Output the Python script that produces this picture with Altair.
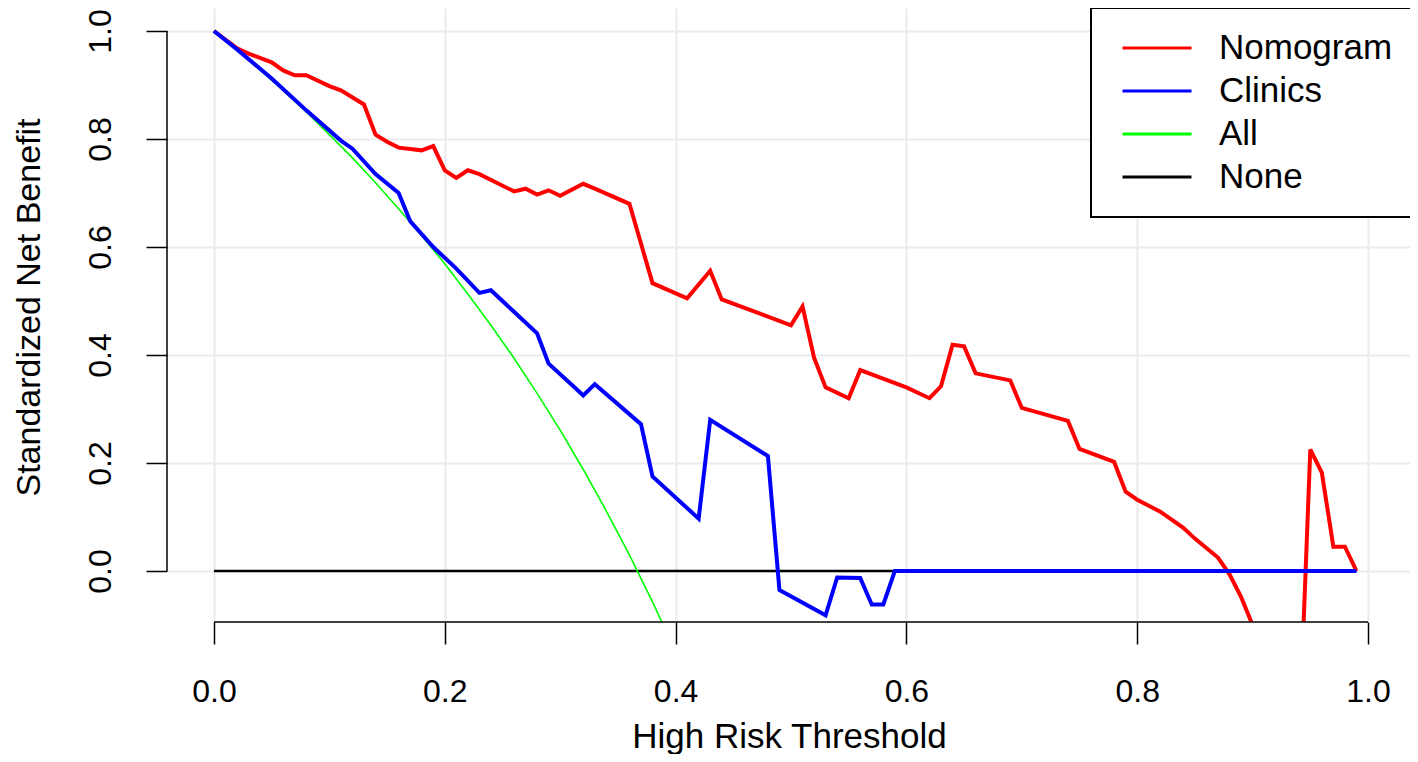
import altair as alt
import pandas as pd

# ---- data ----
series_names = ["Nomogram", "Clinics", "All", "None"]
series_colors = ["#FF0000", "#0000FF", "#00FF00", "#000000"]

nomo_t = [0.00, 0.02, 0.03, 0.05, 0.06, 0.07, 0.08, 0.10, 0.11, 0.13, 0.14, 0.15, 0.16,
          0.18, 0.19, 0.20, 0.21, 0.22, 0.23, 0.26, 0.27, 0.28, 0.29, 0.30, 0.32, 0.33,
          0.36, 0.38, 0.41, 0.43, 0.44, 0.50, 0.51, 0.52, 0.53, 0.55, 0.56, 0.60, 0.62,
          0.63, 0.64, 0.65, 0.66, 0.69, 0.70, 0.74, 0.75, 0.78, 0.79, 0.80, 0.82, 0.84,
          0.85, 0.87, 0.88, 0.89, 0.90, 0.92, 0.94, 0.95, 0.96, 0.97, 0.98, 0.99]
nomo_nb = [1.000, 0.968, 0.958, 0.942, 0.927, 0.918, 0.918, 0.898, 0.890, 0.864, 0.808, 0.795, 0.784,
           0.779, 0.787, 0.742, 0.728, 0.742, 0.735, 0.703, 0.708, 0.697, 0.705, 0.695, 0.717, 0.708,
           0.680, 0.533, 0.505, 0.556, 0.503, 0.455, 0.490, 0.395, 0.340, 0.320, 0.372, 0.340, 0.320,
           0.342, 0.419, 0.416, 0.366, 0.353, 0.302, 0.278, 0.226, 0.202, 0.147, 0.132, 0.110, 0.080,
           0.060, 0.025, -0.006, -0.048, -0.100, -0.200, -0.330, 0.225, 0.182, 0.045, 0.045, 0.000]

clin_t = [0.00, 0.02, 0.05, 0.08, 0.11, 0.12, 0.14, 0.16, 0.17, 0.19, 0.21, 0.23, 0.24,
          0.26, 0.28, 0.29, 0.31, 0.32, 0.33, 0.37, 0.38, 0.42, 0.43, 0.48, 0.49, 0.53,
          0.54, 0.56, 0.57, 0.58, 0.59, 0.99]
clin_nb = [1.000, 0.966, 0.912, 0.853, 0.797, 0.782, 0.735, 0.700, 0.648, 0.600, 0.560, 0.515, 0.520,
           0.480, 0.440, 0.384, 0.345, 0.325, 0.346, 0.272, 0.175, 0.097, 0.280, 0.213, -0.035, -0.082,
           -0.012, -0.013, -0.062, -0.062, 0.000, 0.000]

all_t = [0.00, 0.02, 0.04, 0.06, 0.08, 0.10, 0.12, 0.14, 0.16, 0.18, 0.20, 0.22, 0.24,
         0.26, 0.28, 0.30, 0.32, 0.34, 0.36, 0.38, 0.40]
all_nb = [1.000, 0.965, 0.928, 0.890, 0.850, 0.808, 0.765, 0.719, 0.671, 0.621, 0.569, 0.513, 0.455,
          0.394, 0.329, 0.261, 0.188, 0.111, 0.030, -0.057, -0.150]

none_t = [0.00, 0.99]
none_nb = [0.00, 0.00]

x_ticks = [0.0, 0.2, 0.4, 0.6, 0.8, 1.0]
y_ticks = [0.0, 0.2, 0.4, 0.6, 0.8, 1.0]
axis_x_span = [0.0, 1.0]
axis_y_span = [0.0, 1.0]

x_domain = [-0.0407, 1.0364]
y_domain = [-0.09444, 1.04259]

FONT = "Liberation Sans"
W, H = 1243, 614

line_widths = {"Nomogram": 4, "Clinics": 4, "All": 1.6, "None": 2.5}


def frame(name, t, nb):
    return pd.DataFrame({"t": t, "nb": nb, "series": name})


legend = alt.Legend(
    orient="none", legendX=924, legendY=0, title=None,
    padding=22, strokeColor="black", fillColor="white",
    symbolType="stroke", symbolSize=4761, symbolOffset=8, symbolStrokeWidth=3,
    labelOffset=26, rowPadding=7, clipHeight=36,
    labelFont=FONT, labelFontSize=35, labelColor="black", labelLimit=0,
)

color = alt.Color("series:N", scale=alt.Scale(domain=series_names, range=series_colors), legend=legend)

x_enc = alt.X(
    "t:Q",
    scale=alt.Scale(domain=x_domain, nice=False, zero=False),
    axis=alt.Axis(
        values=x_ticks, format=".1f", grid=True, gridColor="#EBEBEB", gridWidth=2,
        domain=False, ticks=True, tickSize=22, tickColor="black", tickWidth=1.5,
        labelFont=FONT, labelFontSize=32, labelColor="black", labelBaseline="alphabetic",
        labelPadding=57, labelFlush=False, labelOverlap=False,
        title="High Risk Threshold", titleFont=FONT, titleFontSize=35, titleFontWeight="normal",
        titleColor="black", titleX=622, titleY=125, titleAlign="center", titleBaseline="alphabetic",
    ),
)
y_enc = alt.Y(
    "nb:Q",
    scale=alt.Scale(domain=y_domain, nice=False, zero=False),
    axis=alt.Axis(
        values=y_ticks, format=".1f", grid=True, gridColor="#EBEBEB", gridWidth=2,
        domain=False, ticks=True, tickSize=21, tickColor="black", tickWidth=1.5,
        labelFont=FONT, labelFontSize=32, labelColor="black", labelAngle=270,
        labelAlign="center", labelBaseline="alphabetic", labelPadding=36,
        labelFlush=False, labelOverlap=False,
        title="Standardized Net Benefit", titleFont=FONT, titleFontSize=34, titleFontWeight="normal",
        titleColor="black", titleAngle=270, titleX=-128, titleY=299, titleAlign="center",
        titleBaseline="alphabetic",
    ),
)


def line_layer(name, t, nb):
    return alt.Chart(frame(name, t, nb)).mark_line(
        clip=True, strokeCap="butt", strokeWidth=line_widths[name]
    ).encode(x=x_enc, y=y_enc, color=color)


layer_none = line_layer("None", none_t, none_nb)
layer_all = line_layer("All", all_t, all_nb)
layer_nomo = line_layer("Nomogram", nomo_t, nomo_nb)
layer_clin = line_layer("Clinics", clin_t, clin_nb)

x_axis_line = alt.Chart(pd.DataFrame({"a": axis_x_span[:1], "b": axis_x_span[1:]})).mark_rule(
    color="black", strokeWidth=1.5
).encode(x=alt.X("a:Q", scale=alt.Scale(domain=x_domain, nice=False, zero=False)), x2="b:Q", y=alt.value(H))

y_axis_line = alt.Chart(pd.DataFrame({"a": axis_y_span[:1], "b": axis_y_span[1:]})).mark_rule(
    color="black", strokeWidth=1.5
).encode(y=alt.Y("a:Q", scale=alt.Scale(domain=y_domain, nice=False, zero=False)), y2="b:Q", x=alt.value(0))

chart = alt.layer(
    layer_none, layer_all, layer_nomo, layer_clin, x_axis_line, y_axis_line
).properties(
    width=W, height=H,
    autosize=alt.AutoSizeParams(type="none"),
    padding={"left": 159, "top": 0, "right": 0, "bottom": 132},
    background="white",
).configure_view(stroke=None).configure_legend(strokeWidth=2)

chart.save("out.html", embed_options={"renderer": "svg", "actions": False})
